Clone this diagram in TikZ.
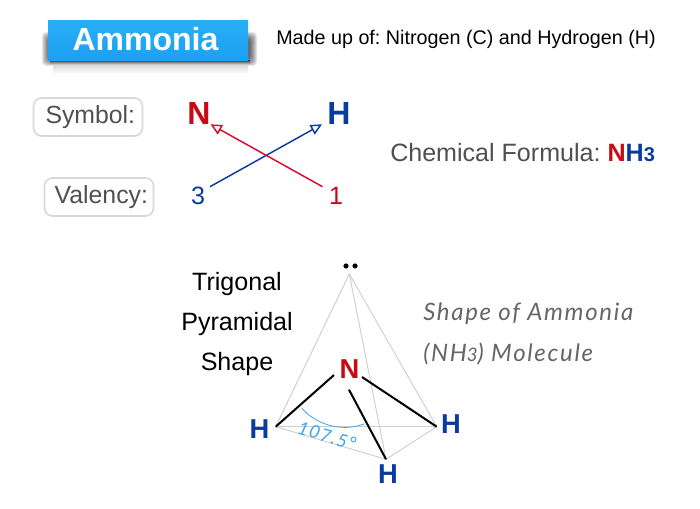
\documentclass[tikz,border=0pt]{standalone}
\usepackage{fontspec}
\setmainfont{Liberation Sans}
\newfontfamily\handfont{Lato}[LetterSpace=7]
\usetikzlibrary{arrows.meta}
\definecolor{cred}{HTML}{C80A14}
\definecolor{cblue}{HTML}{0A3CA0}
\definecolor{linered}{HTML}{DC0A32}
\definecolor{lbl}{HTML}{505050}
\definecolor{boxline}{HTML}{D8D8D8}
\definecolor{pyr}{HTML}{CFCFCF}
\definecolor{hand}{HTML}{666666}
\definecolor{ang}{HTML}{3DA5F0}
\frenchspacing
\tikzset{
  x=0.75pt,y=-0.75pt,
  tag/.style={draw=boxline,line width=1.2pt,rounded corners=6pt,fill=white,text=lbl,font=\fontsize{18.6}{22}\selectfont,inner sep=0pt,minimum height=28.5pt,minimum width=81.75pt},
  bigsym/.style={font=\fontsize{24}{28}\selectfont\bfseries,inner sep=0pt},
  atom/.style={font=\fontsize{20.5}{24}\selectfont\bfseries,inner sep=0pt},
  plain/.style={font=\fontsize{18.8}{22}\selectfont,inner sep=0pt},
  handtext/.style={font=\fontsize{18}{22}\selectfont\handfont\itshape,text=hand,inner sep=0pt},
  crossarrow/.style={line width=1.1pt,-{Triangle[open,length=8.5pt,width=8pt]}},
  edge3d/.style={draw=pyr,line width=0.7pt},
  bond/.style={draw=black,line width=1.5pt}
}
\begin{document}
\begin{tikzpicture}
\useasboundingbox (0,0) rectangle (700,509);
\fill[white] (0,0) rectangle (700,509);
% title shadow
\foreach \i in {0,...,7}{
  \fill[black,opacity=0.1,rounded corners=3pt] ({42+\i},{32+\i}) rectangle ({257-\i},{66-\i});
}
\shade[top color=black!16,bottom color=white] (53,64) rectangle (248,74);
\shade[top color=black!65,bottom color=black!8] (50,61) rectangle (250,65);
\shade[top color={rgb,255:red,40;green,174;blue,245},middle color={rgb,255:red,10;green,96;blue,240},bottom color={rgb,255:red,28;green,160;blue,245}]
  (48,21) rectangle (248,61);
\node[text=white,font=\fontsize{24}{28}\selectfont\bfseries,inner sep=0pt] (titletext) at (145.5,39) {Ammonia};
\node[font=\fontsize{14.8}{18}\selectfont,inner sep=0pt,anchor=west] (made) at (276,39.5) {Made up of: Nitrogen (C) and Hydrogen (H)};
% symbol / valency
\node[tag] (symbol) at (88,117) {\hspace{3.5pt}\raisebox{-1.2pt}{Symbol:}};
\node[tag] (valency) at (99,197) {\hspace{3.5pt}\raisebox{-1.2pt}{Valency:}};
\node[bigsym,text=cred] (nsym) at (199,113) {N};
\node[bigsym,text=cblue] (hsym) at (339,113) {H};
\node[plain,text=cblue] (three) at (198,196) {3};
\node[plain,text=cred] (one) at (336,196) {1};
\coordinate (redstart) at (322.5,186.7);
\coordinate (redend) at (210.5,124.3);
\coordinate (bluestart) at (210,186.7);
\coordinate (blueend) at (322,124.3);
\draw[crossarrow,draw=cblue] (bluestart) -- (blueend);
\draw[crossarrow,draw=linered] (redstart) -- (redend);
\node[plain,font=\fontsize{18.8}{22}\selectfont,text=lbl,anchor=west] (formula) at (390,153) {Chemical Formula: \textcolor{cred}{\textbf{N}}\textcolor{cblue}{\textbf{H}\fontsize{15}{16}\selectfont\textbf{3}}};
% labels
\node[plain] (trig) at (237,284) {Trigonal};
\node[plain] (pyrm) at (237,324) {Pyramidal};
\node[plain] (shp) at (237,364) {Shape};
\node[handtext,anchor=west] (shape1) at (423,314) {Shape of Ammonia};
\node[handtext,anchor=west] (shape2) at (423,353.5) {(NH\fontsize{14}{16}\selectfont 3\fontsize{18}{22}\selectfont) Molecule};
% pyramid
\coordinate (apex) at (349.3,274);
\coordinate (hl) at (275.7,426.7);
\coordinate (hr) at (436.7,426.7);
\coordinate (hb) at (386,459.3);
\coordinate (nl) at (334,375);
\coordinate (nr) at (362,377);
\coordinate (nb) at (349,389.7);
\draw[edge3d] (apex) -- (hl) -- (hb) -- (hr) -- cycle;
\draw[edge3d] (hl) -- (hr);
\draw[edge3d] (apex) -- (hb);
\draw[bond] (nl) -- (hl);
\draw[bond] (nr) -- (hr);
\draw[bond] (nb) -- (hb);
\coordinate (arcl) at (301.7,408);
\coordinate (arcr) at (364,424);
\draw[ang,line width=0.6pt] (arcl) .. controls (314,423) and (340,433) .. (arcr);
\node[atom,text=cred] (ncenter) at (349.5,369) {N};
\node[atom,text=cblue] (h1) at (259.5,429) {H};
\node[atom,text=cblue] (h2) at (451,424) {H};
\node[atom,text=cblue] (h3) at (388,474) {H};
\node[font=\fontsize{13.5}{16}\selectfont\handfont\itshape,text=ang,rotate=-17,inner sep=0pt] (angle) at (327,436) {107.5°};
\fill[black] (346,266) circle (2.6);
\fill[black] (355,266) circle (2.6);
\end{tikzpicture}
\end{document}
